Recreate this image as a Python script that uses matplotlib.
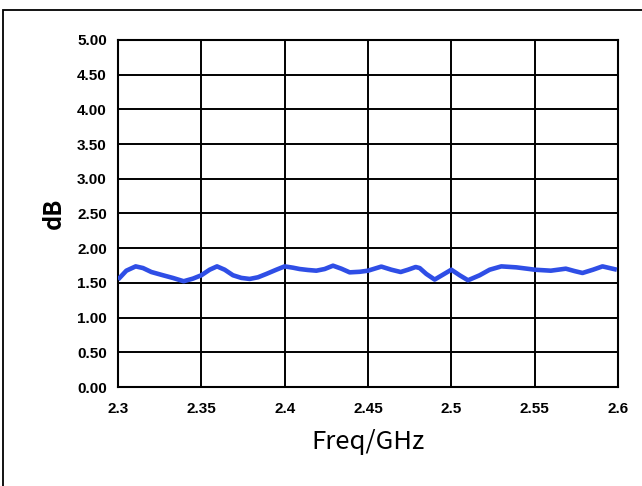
import matplotlib.pyplot as plt
from matplotlib.patches import Rectangle

freq = [2.300, 2.305, 2.3106, 2.315, 2.320, 2.327, 2.333, 2.3394, 2.345, 2.350,
        2.355, 2.3594, 2.364, 2.369, 2.374, 2.379, 2.384, 2.389, 2.395, 2.400,
        2.405, 2.409, 2.414, 2.419, 2.424, 2.429, 2.434, 2.439, 2.445, 2.450,
        2.458, 2.464, 2.4696, 2.474, 2.4786, 2.481, 2.485, 2.490, 2.495, 2.500,
        2.505, 2.510, 2.517, 2.523, 2.530, 2.539, 2.547, 2.550, 2.5597, 2.5687,
        2.574, 2.5787, 2.585, 2.5907, 2.5993]
db = [1.548, 1.676, 1.738, 1.714, 1.657, 1.610, 1.571, 1.524, 1.562, 1.610,
      1.690, 1.738, 1.690, 1.610, 1.572, 1.557, 1.581, 1.629, 1.690, 1.738,
      1.719, 1.700, 1.686, 1.676, 1.700, 1.748, 1.705, 1.652, 1.660, 1.676,
      1.735, 1.690, 1.657, 1.690, 1.729, 1.714, 1.629, 1.548, 1.619, 1.690,
      1.610, 1.538, 1.610, 1.690, 1.738, 1.724, 1.700, 1.690, 1.676, 1.705,
      1.670, 1.643, 1.690, 1.738, 1.690]

xticks = [2.3, 2.35, 2.4, 2.45, 2.5, 2.55, 2.6]
xticklabels = ["2.3", "2.35", "2.4", "2.45", "2.5", "2.55", "2.6"]
yticks = [0, 0.5, 1, 1.5, 2, 2.5, 3, 3.5, 4, 4.5, 5]

fig = plt.figure(figsize=(6.42, 4.86), dpi=100)
ax = fig.add_axes([0.1838, 0.2037, 0.7788, 0.714])

# outer frame (only left/top visible in the reference)
fig.patches.append(Rectangle((3 / 642, -0.1), 1.2, 1.1 - 10 / 486,
                             transform=fig.transFigure, fill=False,
                             edgecolor="black", linewidth=1.3))

ax.plot(freq, db, color="#2f4ee6", linewidth=3.3, solid_joinstyle="round",
        solid_capstyle="butt", zorder=3)

ax.set_xlim(2.3, 2.6)
ax.set_ylim(0, 5)
ax.set_xticks(xticks)
ax.set_xticklabels(xticklabels)
ax.set_yticks(yticks)
ax.set_yticklabels([f"{v:.2f}" for v in yticks])
ax.grid(True, color="black", linewidth=1.4)
ax.tick_params(length=0, labelsize=11)
ax.tick_params(axis="x", pad=11)
ax.tick_params(axis="y", pad=8)
for lab in ax.get_xticklabels() + ax.get_yticklabels():
    lab.set_fontfamily("Liberation Sans")
    lab.set_fontweight("bold")
for s in ax.spines.values():
    s.set_linewidth(1.5)

ax.set_xlabel("Freq/GHz", fontsize=18.5, fontfamily="Noto Sans CJK SC",
              fontweight="medium", labelpad=9)
ax.set_ylabel("dB", fontsize=17, fontfamily="Noto Sans CJK SC",
              fontweight="bold", labelpad=8)

fig.savefig("out.png", dpi=100)
